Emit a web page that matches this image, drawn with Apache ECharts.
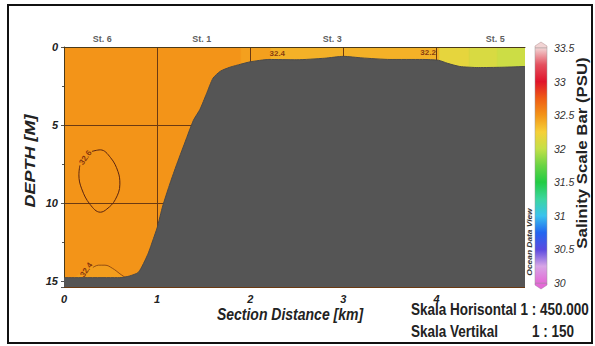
<!DOCTYPE html>
<html><head><meta charset="utf-8">
<script src="https://cdn.jsdelivr.net/npm/echarts@6/dist/echarts.min.js"></script>
<style>html,body{margin:0;padding:0;background:#fff}#c{width:595px;height:346px}</style>
</head><body><div id="c"></div>
<script>
// ---------- data ----------
const xTicks = [0, 1, 2, 3, 4];
const xMaxKm = 4.95;
const depthTicks = [0, 5, 10, 15];
const yMaxDepth = 15.4;
const colorTicks = [30, 30.5, 31, 31.5, 32, 32.5, 33, 33.5];

const stations = ['St. 6', 'St. 1', 'St. 3', 'St. 5'];
const stationKm = [0.41, 1.48, 2.88, 4.63];

// seabed profile (km, depth m)
const bottomKm    = [0, 0.6, 0.7, 0.8, 0.9, 0.96, 1.0, 1.06, 1.13, 1.2, 1.3, 1.39, 1.46, 1.53, 1.6, 1.68, 1.78, 1.9, 2.0, 2.2, 2.5, 2.8, 3.0, 3.2, 3.5, 3.85, 4.02, 4.12, 4.25, 4.45, 4.7, 4.95];
const bottomDepth = [14.8, 14.8, 14.7, 14.45, 13.3, 12.3, 11.6, 10.2, 8.9, 7.7, 6.1, 4.7, 4.0, 3.0, 2.0, 1.55, 1.3, 1.1, 0.95, 0.8, 0.82, 0.72, 0.6, 0.7, 0.8, 0.8, 0.85, 1.05, 1.25, 1.32, 1.3, 1.25];

// salinity regions (PSU) read from the section
const regionSalinity = [32.5, 32.46, 32.45, 32.38, 32.17, 32.1, 32.04];
const regionKm = [
  [0, 4.95, 4.95, 0],
  [0.05, 0.12, 0.2, 0.3, 0.42, 0.52, 0.6, 0.68],
  [1.9, 2.22, 2.22, 1.9],
  [2.22, 4.03, 4.03, 2.22],
  [4.03, 4.35, 4.35, 4.03],
  [4.35, 4.65, 4.65, 4.35],
  [4.65, 4.95, 4.95, 4.65]
];
const regionDepth = [
  [0, 0, 15.4, 15.4],
  [15.0, 14.75, 14.45, 14.1, 14.0, 14.2, 14.6, 15.0],
  [0, 0, 2, 2],
  [0, 0, 2, 2],
  [0, 0, 2, 2],
  [0, 0, 2, 2],
  [0, 0, 2, 2]
];

// contour 32.6 (closed loop, opened at label)
const contour326Km    = [0.3, 0.39, 0.5, 0.58, 0.6, 0.55, 0.46, 0.39, 0.28, 0.19, 0.16, 0.17];
const contour326Depth = [6.7, 6.6, 7.1, 8.0, 8.8, 9.8, 10.4, 10.6, 10.1, 9.1, 8.2, 7.6];
// contour 32.4 near the bottom
const contour324Km    = [0.31, 0.37, 0.44, 0.52, 0.6, 0.66];
const contour324Depth = [14.15, 14.0, 14.0, 14.2, 14.55, 14.8];

const contourLabels = ['32.6', '32.4', '32.4', '32.2'];
const contourLabelKm = [0.23, 0.24, 2.29, 3.91];
const contourLabelDepth = [7.1, 14.3, 0.42, 0.38];

// ODV-like salinity palette, 30 -> 33.5 evenly spaced
const palette = ['#e46ad6', '#d7a6e6', '#5a4ae0', '#2266f0', '#3ac2ee', '#3cd6a0', '#22cc44', '#6ad444',
                 '#c4e048', '#f6d038', '#f39418', '#ef5c14', '#e0142a', '#e4505e', '#f2d4d4'];

// ---------- chart ----------
const contourLabelRotate = [55, 55, 0, 0];
const FONT = "'Liberation Sans', Arial, sans-serif";
const chart = echarts.init(document.getElementById('c'), null, {renderer: 'svg'});

const tickFont = {fontSize: 11, fontWeight: 'bold', fontStyle: 'italic', color: '#222', fontFamily: FONT};

const option = {
  animation: false,
  backgroundColor: '#ffffff',
  grid: [
    {left: 64, top: 47, width: 461, height: 240, outerBoundsMode: 'none', containLabel: false},
    {left: 535, top: 48, width: 12, height: 235, outerBoundsMode: 'none', containLabel: false}
  ],
  xAxis: [
    {gridIndex: 0, type: 'value', min: xTicks[0], max: xMaxKm, interval: 1, z: 1.5,
     axisLine: {show: false}, axisTick: {show: false},
     axisLabel: Object.assign({showMaxLabel: false, margin: 6}, tickFont),
     splitLine: {show: true, showMaxLine: false, lineStyle: {color: '#6b3a12', width: 1}}},
    {gridIndex: 0, type: 'value', position: 'top', min: xTicks[0], max: xMaxKm, z: 3,
     axisLine: {show: true, onZero: false, lineStyle: {color: '#4a3a1a', width: 1}},
     axisTick: {show: false}, axisLabel: {show: false}, splitLine: {show: false}},
    {gridIndex: 1, type: 'value', min: 0, max: 1, show: false}
  ],
  yAxis: [
    {gridIndex: 0, type: 'value', inverse: true, min: depthTicks[0], max: yMaxDepth, interval: 5, z: 1.5,
     axisLine: {show: true, onZero: false, lineStyle: {color: '#4a3a1a'}},
     axisTick: {show: true, length: 3, lineStyle: {color: '#555'}},
     minorTick: {show: true, splitNumber: 2, length: 2, lineStyle: {color: '#555'}},
     axisLabel: Object.assign({showMaxLabel: false, margin: 6}, tickFont),
     splitLine: {show: true, lineStyle: {color: '#6b3a12', width: 1}}},
    {gridIndex: 1, type: 'value', position: 'right', min: colorTicks[0], max: colorTicks[colorTicks.length - 1], interval: 0.5,
     axisLine: {show: false}, axisTick: {show: false}, splitLine: {show: false},
     axisLabel: {fontSize: 10.5, fontStyle: 'italic', color: '#333', margin: 7, fontFamily: FONT}}
  ],
  visualMap: {type: 'continuous', show: false, min: colorTicks[0], max: colorTicks[colorTicks.length - 1],
              dimension: 0, seriesIndex: 0, inRange: {color: palette}},
  series: [
    {type: 'custom', name: 'salinity', xAxisIndex: 0, yAxisIndex: 0, z: 1, clip: true, silent: true,
     data: regionSalinity.map((s, i) => [s, i]),
     renderItem: function (params, api) {
       const r = api.value(1);
       const pts = regionKm[r].map((k, j) => api.coord([k, regionDepth[r][j]]));
       const c = api.visual('color');
       return {type: 'polygon', shape: {points: pts, smooth: r === 1 ? 0.4 : 0},
               style: {fill: c, stroke: c, lineWidth: 0.6}};
     }},
    {type: 'line', name: 'contour 32.6', xAxisIndex: 0, yAxisIndex: 0, z: 1.6, symbol: 'none', silent: true, smooth: 0.4,
     data: contour326Km.map((k, i) => [k, contour326Depth[i]]),
     lineStyle: {color: '#5a2410', width: 1}},
    {type: 'line', name: 'contour 32.4', xAxisIndex: 0, yAxisIndex: 0, z: 1.6, symbol: 'none', silent: true, smooth: 0.4,
     data: contour324Km.map((k, i) => [k, contour324Depth[i]]),
     lineStyle: {color: '#7a3a12', width: 0.8}},
    {type: 'scatter', name: 'contour labels', xAxisIndex: 0, yAxisIndex: 0, z: 1.7, symbolSize: 0.1, silent: true, clip: false,
     data: contourLabels.map((t, i) => ({name: t, value: [contourLabelKm[i], contourLabelDepth[i]],
                                          label: {rotate: contourLabelRotate[i]}})),
     label: {show: true, position: 'inside', formatter: '{b}', fontSize: 8, fontWeight: 'bold', color: '#6b1a0a', fontFamily: FONT}},
    {type: 'line', name: 'seabed', xAxisIndex: 0, yAxisIndex: 0, z: 2, symbol: 'none', silent: true, smooth: 0.2,
     data: bottomKm.map((k, i) => [k, bottomDepth[i]]),
     lineStyle: {color: '#4a4a4a', width: 1},
     areaStyle: {origin: 'end', color: '#555555', opacity: 1}},
    {type: 'scatter', name: 'stations', xAxisIndex: 0, yAxisIndex: 0, z: 3, symbolSize: 0.1, silent: true, clip: false,
     data: stations.map((s, i) => ({name: s, value: [stationKm[i], 0]})),
     label: {show: true, position: 'top', distance: 3, formatter: '{b}', fontSize: 9, fontWeight: 'bold', color: '#333', fontFamily: FONT}},
    {type: 'custom', name: 'colorbar', xAxisIndex: 2, yAxisIndex: 1, z: 2, silent: true, clip: false,
     data: [[0, colorTicks[0], 1, colorTicks[colorTicks.length - 1]]],
     renderItem: function (params, api) {
       const pb = api.coord([api.value(0), api.value(1)]);
       const pt = api.coord([api.value(2), api.value(3)]);
       const x = pb[0], w = pt[0] - pb[0], yTop = pt[1], yBot = pb[1];
       const n = palette.length;
       const stops = palette.map((c, i) => ({offset: 1 - i / (n - 1), color: c})).reverse();
       return {type: 'group', children: [
         {type: 'polygon', shape: {points: [[x, yTop], [x, yTop - 2], [x + w / 2, yTop - 6], [x + w, yTop - 2], [x + w, yTop]]},
          style: {fill: palette[n - 1], stroke: '#b09090', lineWidth: 0.5}},
         {type: 'polygon', shape: {points: [[x, yBot], [x, yBot + 2], [x + w / 2, yBot + 6], [x + w, yBot + 2], [x + w, yBot]]},
          style: {fill: palette[0], stroke: '#a070a0', lineWidth: 0.5}},
         {type: 'rect', shape: {x: x, y: yTop, width: w, height: yBot - yTop},
          style: {fill: {type: 'linear', x: 0, y: 0, x2: 0, y2: 1, colorStops: stops}, stroke: '#999', lineWidth: 0.5}}
       ]};
     }}
  ],
  graphic: {elements: [
    {type: 'rect', z: 100, shape: {x: 8, y: 5, width: 584, height: 338},
     style: {fill: 'none', stroke: '#111', lineWidth: 2}},
    {type: 'text', x: 30, y: 161, rotation: Math.PI / 2, scaleX: 1.2,
     style: {text: 'DEPTH [M]', fontSize: 15, fontWeight: 'bold', fontStyle: 'italic', fontFamily: FONT, fill: '#222',
             align: 'center', verticalAlign: 'middle', textAlign: 'center', textVerticalAlign: 'middle'}},
    {type: 'text', x: 290, y: 314, scaleY: 1.2,
     style: {text: 'Section Distance [km]', fontSize: 14, fontWeight: 'bold', fontStyle: 'italic', fontFamily: FONT, fill: '#222',
             align: 'center', verticalAlign: 'middle', textAlign: 'center', textVerticalAlign: 'middle'}},
    {type: 'text', x: 582, y: 153, rotation: Math.PI / 2, scaleX: 1.2,
     style: {text: 'Salinity Scale Bar (PSU)', fontSize: 14, fontWeight: 'bold', fontFamily: FONT, fill: '#222',
             align: 'center', verticalAlign: 'middle', textAlign: 'center', textVerticalAlign: 'middle'}},
    {type: 'text', x: 530, y: 242, rotation: Math.PI / 2, scaleX: 1.2,
     style: {text: 'Ocean Data View', fontSize: 7, fontWeight: 'bold', fontStyle: 'italic', fontFamily: FONT, fill: '#333',
             align: 'center', verticalAlign: 'middle', textAlign: 'center', textVerticalAlign: 'middle'}},
    {type: 'text', x: 411, y: 310, scaleY: 1.2,
     style: {text: 'Skala Horisontal 1 : 450.000', fontSize: 13.5, fontWeight: 'bold', fontFamily: FONT, fill: '#222',
             align: 'left', verticalAlign: 'middle', textAlign: 'left', textVerticalAlign: 'middle'}},
    {type: 'text', x: 411, y: 332, scaleY: 1.2,
     style: {text: 'Skala Vertikal', fontSize: 13.5, fontWeight: 'bold', fontFamily: FONT, fill: '#222',
             align: 'left', verticalAlign: 'middle', textAlign: 'left', textVerticalAlign: 'middle'}},
    {type: 'text', x: 532, y: 332, scaleY: 1.2,
     style: {text: '1 : 150', fontSize: 13.5, fontWeight: 'bold', fontFamily: FONT, fill: '#222',
             align: 'left', verticalAlign: 'middle', textAlign: 'left', textVerticalAlign: 'middle'}}
  ]}
};
chart.setOption(option);
</script>
</body></html>
